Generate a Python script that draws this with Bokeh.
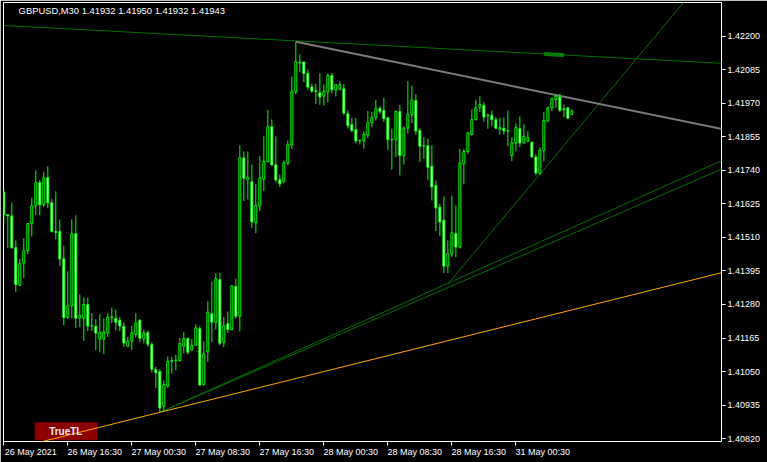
from bokeh.plotting import figure
from bokeh.models import Range1d, FixedTicker, Label, BoxAnnotation, ColumnDataSource, PrintfTickFormatter
from bokeh.embed import file_html
from bokeh.resources import INLINE

# ---------------- data (GBPUSD, M30) ----------------
OPENS = [
    1.41665, 1.41588, 1.41584, 1.41475, 1.41346, 1.41422, 1.41465, 1.41558, 1.41619, 1.41698,
    1.41622, 1.41715, 1.41629, 1.41530, 1.41530, 1.41437, 1.41236, 1.41276, 1.41523, 1.41233,
    1.41233, 1.41280, 1.41206, 1.41205, 1.41161, 1.41161, 1.41182, 1.41235, 1.41233, 1.41226,
    1.41205, 1.41137, 1.41154, 1.41177, 1.41226, 1.41163, 1.41183, 1.41143, 1.41057, 1.41050,
    1.40931, 1.41000, 1.41085, 1.41088, 1.41087, 1.41137, 1.41163, 1.41124, 1.41140, 1.41197,
    1.41005, 1.41117, 1.41248, 1.41219, 1.41365, 1.41151, 1.41214, 1.41194, 1.41342, 1.41240,
    1.41783, 1.41708, 1.41701, 1.41560, 1.41618, 1.41710, 1.41770, 1.41890, 1.41759, 1.41708,
    1.41700, 1.41765, 1.41827, 1.42009, 1.42111, 1.42112, 1.42072, 1.42026, 1.42013, 1.42006,
    1.41995, 1.42009, 1.42066, 1.42017, 1.42019, 1.42020, 1.41934, 1.41897, 1.41880, 1.41843,
    1.41841, 1.41861, 1.41904, 1.41921, 1.41952, 1.41946, 1.41921, 1.41845, 1.41845, 1.41942,
    1.41791, 1.41885, 1.41931, 1.41980, 1.41877, 1.41824, 1.41825, 1.41754, 1.41688, 1.41614,
    1.41569, 1.41412, 1.41454, 1.41523, 1.41477, 1.41763, 1.41805, 1.41863, 1.41914, 1.41957,
    1.41963, 1.41929, 1.41929, 1.41914, 1.41881, 1.41885, 1.41875, 1.41791, 1.41834, 1.41883,
    1.41834, 1.41840, 1.41837, 1.41786, 1.41729, 1.41809, 1.41909, 1.41955, 1.41983, 1.41992,
    1.41951, 1.41955, 1.41932,
]
HIGHS = [
    1.41675, 1.41590, 1.41630, 1.41500, 1.41435, 1.41507, 1.41559, 1.41647, 1.41740, 1.41708,
    1.41736, 1.41754, 1.41643, 1.41668, 1.41572, 1.41482, 1.41394, 1.41572, 1.41586, 1.41315,
    1.41304, 1.41304, 1.41250, 1.41229, 1.41247, 1.41232, 1.41252, 1.41270, 1.41263, 1.41237,
    1.41219, 1.41169, 1.41208, 1.41250, 1.41229, 1.41194, 1.41191, 1.41150, 1.41066, 1.41058,
    1.41020, 1.41102, 1.41100, 1.41108, 1.41166, 1.41185, 1.41168, 1.41161, 1.41212, 1.41205,
    1.41153, 1.41291, 1.41359, 1.41388, 1.41388, 1.41237, 1.41256, 1.41345, 1.41369, 1.41826,
    1.41805, 1.41805, 1.41760, 1.41694, 1.41790, 1.41857, 1.41948, 1.41915, 1.41857, 1.41726,
    1.41774, 1.41843, 1.42062, 1.42181, 1.42138, 1.42114, 1.42086, 1.42038, 1.42037, 1.42073,
    1.42035, 1.42073, 1.42074, 1.42035, 1.42046, 1.42037, 1.41946, 1.41920, 1.41920, 1.41846,
    1.41874, 1.41944, 1.41940, 1.41982, 1.41961, 1.41989, 1.41922, 1.41883, 1.41946, 1.41965,
    1.41891, 1.42046, 1.42031, 1.42001, 1.41886, 1.41854, 1.41849, 1.41826, 1.41706, 1.41626,
    1.41651, 1.41500, 1.41654, 1.41620, 1.41814, 1.41814, 1.41870, 1.41949, 1.41983, 1.41994,
    1.41974, 1.41936, 1.41946, 1.41923, 1.41921, 1.41921, 1.41946, 1.41854, 1.41902, 1.41925,
    1.41900, 1.41875, 1.41839, 1.41795, 1.41820, 1.41940, 1.41959, 1.41990, 1.42001, 1.42003,
    1.41966, 1.41957, 1.41950,
]
LOWS = [
    1.41559, 1.41473, 1.41473, 1.41323, 1.41344, 1.41371, 1.41452, 1.41514, 1.41586, 1.41586,
    1.41614, 1.41611, 1.41527, 1.41503, 1.41412, 1.41209, 1.41230, 1.41233, 1.41199, 1.41202,
    1.41155, 1.41189, 1.41189, 1.41123, 1.41116, 1.41110, 1.41168, 1.41216, 1.41191, 1.41189,
    1.41134, 1.41134, 1.41123, 1.41168, 1.41150, 1.41146, 1.41135, 1.41047, 1.40993, 1.40910,
    1.40913, 1.40994, 1.41043, 1.41054, 1.41085, 1.41112, 1.41109, 1.41121, 1.41140, 1.41001,
    1.41002, 1.41083, 1.41151, 1.41194, 1.41140, 1.41134, 1.41182, 1.41191, 1.41231, 1.41188,
    1.41635, 1.41640, 1.41542, 1.41525, 1.41601, 1.41669, 1.41767, 1.41755, 1.41698, 1.41683,
    1.41699, 1.41757, 1.41814, 1.42001, 1.42077, 1.42043, 1.42018, 1.42006, 1.41968, 1.41965,
    1.41963, 1.41973, 1.42003, 1.41994, 1.42014, 1.41929, 1.41884, 1.41870, 1.41833, 1.41829,
    1.41814, 1.41851, 1.41887, 1.41911, 1.41934, 1.41906, 1.41811, 1.41742, 1.41786, 1.41723,
    1.41760, 1.41866, 1.41902, 1.41862, 1.41768, 1.41780, 1.41706, 1.41637, 1.41532, 1.41514,
    1.41388, 1.41388, 1.41443, 1.41443, 1.41472, 1.41692, 1.41797, 1.41860, 1.41911, 1.41940,
    1.41906, 1.41883, 1.41891, 1.41882, 1.41863, 1.41863, 1.41823, 1.41772, 1.41805, 1.41820,
    1.41833, 1.41837, 1.41784, 1.41723, 1.41726, 1.41771, 1.41908, 1.41943, 1.41955, 1.41940,
    1.41923, 1.41915, 1.41932,
]
CLOSES = [
    1.41589, 1.41584, 1.41474, 1.41348, 1.41420, 1.41465, 1.41558, 1.41619, 1.41698, 1.41622,
    1.41715, 1.41629, 1.41530, 1.41527, 1.41436, 1.41235, 1.41276, 1.41523, 1.41233, 1.41242,
    1.41280, 1.41206, 1.41207, 1.41182, 1.41184, 1.41186, 1.41236, 1.41238, 1.41219, 1.41206,
    1.41148, 1.41154, 1.41183, 1.41217, 1.41164, 1.41183, 1.41144, 1.41058, 1.41046, 1.40925,
    1.41005, 1.41085, 1.41088, 1.41089, 1.41146, 1.41163, 1.41116, 1.41139, 1.41200, 1.41004,
    1.41111, 1.41254, 1.41219, 1.41369, 1.41147, 1.41207, 1.41194, 1.41344, 1.41240, 1.41783,
    1.41713, 1.41716, 1.41563, 1.41620, 1.41715, 1.41771, 1.41890, 1.41759, 1.41707, 1.41694,
    1.41766, 1.41828, 1.42012, 1.42113, 1.42109, 1.42072, 1.42026, 1.42012, 1.42011, 1.41992,
    1.42011, 1.42066, 1.42017, 1.42034, 1.42034, 1.41937, 1.41893, 1.41877, 1.41841, 1.41842,
    1.41863, 1.41904, 1.41921, 1.41952, 1.41943, 1.41917, 1.41845, 1.41846, 1.41942, 1.41791,
    1.41885, 1.41932, 1.41982, 1.41875, 1.41823, 1.41825, 1.41751, 1.41683, 1.41611, 1.41563,
    1.41411, 1.41454, 1.41526, 1.41477, 1.41766, 1.41805, 1.41869, 1.41914, 1.41955, 1.41966,
    1.41923, 1.41928, 1.41914, 1.41885, 1.41887, 1.41875, 1.41876, 1.41835, 1.41887, 1.41834,
    1.41857, 1.41852, 1.41786, 1.41731, 1.41809, 1.41911, 1.41955, 1.41986, 1.41995, 1.41946,
    1.41948, 1.41919, 1.41943,
]

PRICE_TICKS = [1.40820, 1.40935, 1.41050, 1.41165, 1.41280, 1.41395, 1.41510,
               1.41625, 1.41740, 1.41855, 1.41970, 1.42085, 1.42200]
TIME_TICK_BARS = [0, 16, 32, 48, 64, 80, 96, 112, 128]
TIME_LABELS = ["26 May 2021", "26 May 16:30", "27 May 00:30", "27 May 08:30", "27 May 16:30",
               "28 May 00:30", "28 May 08:30", "28 May 16:30", "31 May 00:30"]

TITLE = "GBPUSD,M30  1.41932 1.41950 1.41932 1.41943"

# trend lines: (bar index, price) anchors
UPPER_TL_X, UPPER_TL_Y = [0, 180], [1.42237, 1.42107]
GREY_TL_X, GREY_TL_Y = [73, 180], [1.42181, 1.41881]
FAN1_X, FAN1_Y = [39, 180], [1.40910, 1.41777]
FAN2_X, FAN2_Y = [39, 180], [1.40910, 1.41748]
STEEP_X, STEEP_Y = [111, 172], [1.41350, 1.42350]
ORANGE_X, ORANGE_Y = [0, 180], [1.40777, 1.41391]
BLOB_X, BLOB_Y = [135.4, 139.7], [1.42139, 1.42136]

# ---------------- figure ----------------
X_LO, X_HI = -0.075, 179.4
Y_LO, Y_HI = 1.40810, 1.42316

p = figure(width=767, height=462, output_backend="svg", toolbar_location=None,
           x_range=Range1d(X_LO, X_HI), y_range=Range1d(Y_LO, Y_HI),
           y_axis_location="right",
           background_fill_color="black", border_fill_color="black",
           min_border_left=3, min_border_top=2, min_border_right=46, min_border_bottom=21)
p.grid.visible = False
p.outline_line_color = "white"
p.outline_line_width = 1

FONT = "Liberation Sans"

ya = p.yaxis[0]
ya.ticker = FixedTicker(ticks=PRICE_TICKS, minor_ticks=[])
ya.formatter = PrintfTickFormatter(format="%.5f")
ya.axis_line_color = None
ya.major_tick_line_color = "white"
ya.major_tick_out = 4
ya.major_tick_in = 0
ya.minor_tick_line_color = None
ya.major_label_standoff = 2
ya.axis_label_standoff = 0
ya.major_label_text_color = "white"
ya.major_label_text_font = FONT
ya.major_label_text_font_size = "9px"

LABEL_SHIFT = 6.75
xa = p.xaxis[0]
xa.ticker = FixedTicker(ticks=[b + LABEL_SHIFT for b in TIME_TICK_BARS], minor_ticks=TIME_TICK_BARS)
xa.major_label_overrides = {b + LABEL_SHIFT: lab for b, lab in zip(TIME_TICK_BARS, TIME_LABELS)}
xa.axis_line_color = None
xa.major_tick_line_color = None
xa.major_tick_out = 4
xa.major_tick_in = 0
xa.minor_tick_line_color = "white"
xa.minor_tick_out = 4
xa.minor_tick_in = 0
xa.major_label_standoff = 1
xa.axis_label_standoff = 0
xa.major_label_text_color = "white"
xa.major_label_text_font = FONT
xa.major_label_text_font_size = "9px"

# TrueTL badge (under glyphs)
p.add_layout(BoxAnnotation(left=7.7, right=23.4, bottom=1.40814, top=1.40876,
                           fill_color="#8B0000", fill_alpha=1.0, line_color=None, level="underlay"))

# trend lines
p.line(UPPER_TL_X, UPPER_TL_Y, line_color="#007000", line_width=1)
p.line(BLOB_X, BLOB_Y, line_color="#0A7A0A", line_width=4, line_cap="round")
p.line(FAN1_X, FAN1_Y, line_color="#007000", line_width=1)
p.line(FAN2_X, FAN2_Y, line_color="#007000", line_width=1)
p.line(STEEP_X, STEEP_Y, line_color="#007000", line_width=1)
p.line(ORANGE_X, ORANGE_Y, line_color="#FFA500", line_width=1)
p.line(GREY_TL_X, GREY_TL_Y, line_color="#7A7A7A", line_width=2)

# candles
bars = list(range(len(OPENS)))
src = ColumnDataSource(dict(
    x=bars, o=OPENS, h=HIGHS, l=LOWS, c=CLOSES,
    top=[max(o, c) for o, c in zip(OPENS, CLOSES)],
    bottom=[min(o, c) for o, c in zip(OPENS, CLOSES)],
    fill=["black" if c >= o else "white" for o, c in zip(OPENS, CLOSES)],
))
p.segment(x0="x", y0="h", x1="x", y1="l", line_color="#00FF00", line_width=1, source=src)
p.vbar(x="x", width=0.5, top="top", bottom="bottom", fill_color="fill",
       line_color="#00FF00", line_width=1, source=src)

# texts
px_per_price = 439 / (Y_HI - Y_LO)
p.add_layout(Label(x=3.7, y=Y_HI - 8 / px_per_price, text=TITLE, text_color="white",
                   text_font=FONT, text_font_size="9.4px", text_baseline="middle", text_align="left"))
p.add_layout(Label(x=15.5, y=1.40845, text="TrueTL", text_color="#FFEAEA",
                   text_font=FONT, text_font_style="bold", text_font_size="10px",
                   text_baseline="middle", text_align="center"))

open("out.html", "w").write(file_html(p, INLINE))
